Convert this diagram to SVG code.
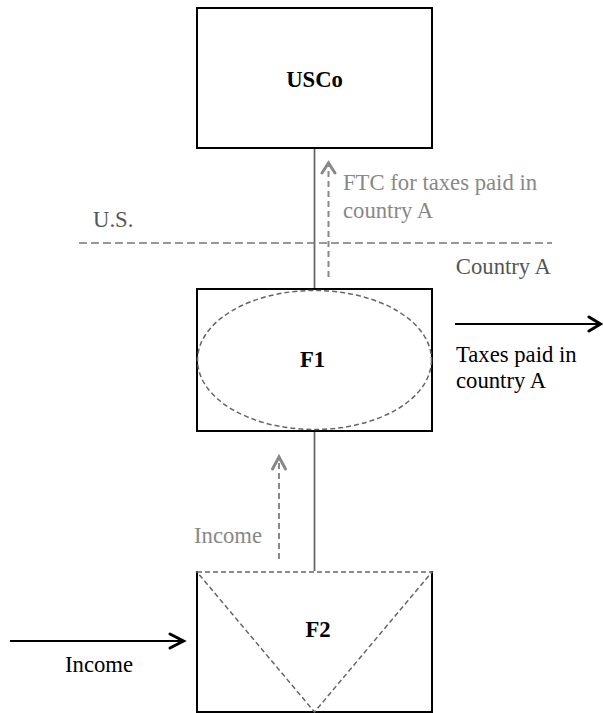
<svg xmlns="http://www.w3.org/2000/svg" width="603" height="713" viewBox="0 0 603 713">
  <style>
    text { font-family: 'Liberation Serif', 'DejaVu Serif', serif; font-size: 22.7px; }
    .box { fill: #fff; stroke: #000; stroke-width: 2; }
    .title { font-weight: bold; fill: #000; text-anchor: middle; }
    .link { stroke: #666; stroke-width: 1.8; fill: none; }
    .shape { fill: none; stroke: #666; stroke-width: 1.5; stroke-dasharray: 5 3; }
    .border { stroke: #777; stroke-width: 1.5; stroke-dasharray: 8 4; fill: none; }
    .flow { stroke: #888; stroke-width: 2; stroke-dasharray: 6 4; fill: none; }
    .head-grey { stroke: #888; stroke-width: 3; fill: none; stroke-linecap: round; }
    .solid { stroke: #000; stroke-width: 2; fill: none; }
    .head-black { stroke: #000; stroke-width: 3; fill: none; stroke-linecap: round; }
    .grey { fill: #888; }
    .dark { fill: #555; }
    .black { fill: #000; }
  </style>

  <!-- ownership links -->
  <g id="connectors">
    <line class="link" x1="314.5" y1="148" x2="314.5" y2="289"/>
    <line class="link" x1="314.5" y1="431" x2="314.5" y2="572"/>
    <!-- FTC flow up to USCo -->
    <line class="flow" x1="328.5" y1="277" x2="328.5" y2="166"/>
    <polyline class="head-grey" points="322,173 328.5,163 335,173"/>
    <!-- income flow F2 to F1 -->
    <line class="flow" x1="279" y1="559" x2="279" y2="459"/>
    <polyline class="head-grey" points="272.5,469 279,457 285.5,469"/>
    <!-- taxes paid -->
    <line class="solid" x1="455" y1="324" x2="600" y2="324"/>
    <polyline class="head-black" points="589,317 600.5,324 589,331"/>
    <!-- outside income -->
    <line class="solid" x1="10" y1="641" x2="183" y2="641"/>
    <polyline class="head-black" points="170,634 183.5,641 170,648"/>
  </g>

  <!-- jurisdiction border -->
  <g id="border">
    <line class="border" x1="79" y1="243" x2="552" y2="243"/>
    <text class="dark" x="93" y="227" font-family="Liberation Serif, serif">U.S.</text>
    <text class="dark" x="551" y="274" text-anchor="end" font-family="Liberation Serif, serif">Country A</text>
  </g>

  <g id="usco">
    <rect class="box" x="197" y="8" width="235" height="140"/>
    <text class="title" x="314.5" y="87" font-family="Liberation Serif, serif">USCo</text>
  </g>

  <g id="f1">
    <rect class="box" x="197" y="289" width="235" height="142"/>
    <ellipse class="shape" cx="314.5" cy="360" rx="117" ry="69.5"/>
    <text class="title" x="312.5" y="367" font-family="Liberation Serif, serif">F1</text>
  </g>

  <g id="f2">
    <rect class="box" x="197" y="572" width="235" height="140"/>
    <line x1="198" y1="572" x2="431" y2="572" stroke="#fff" stroke-width="2"/>
    <polygon class="shape" points="197,572 432,572 314.5,712"/>
    <text class="title" x="318" y="637" font-family="Liberation Serif, serif">F2</text>
  </g>

  <g id="labels">
    <text class="grey" x="343" y="190" font-family="Liberation Serif, serif">FTC for taxes paid in</text>
    <text class="grey" x="343" y="218" font-family="Liberation Serif, serif">country A</text>
    <text class="black" x="456" y="362" font-family="Liberation Serif, serif">Taxes paid in</text>
    <text class="black" x="456" y="388" font-family="Liberation Serif, serif">country A</text>
    <text class="grey" x="194" y="543" font-family="Liberation Serif, serif">Income</text>
    <text class="black" x="65" y="672" font-family="Liberation Serif, serif">Income</text>
  </g>
</svg>
